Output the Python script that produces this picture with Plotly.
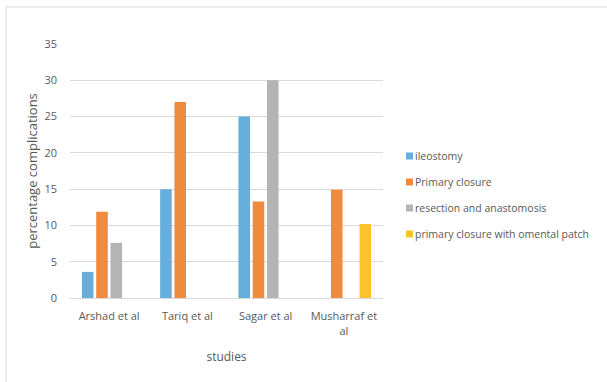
import plotly.graph_objects as go

# Studies and complication rates (%) for each surgical technique
studies = ["Arshad et al", "Tariq et al", "Sagar et al", "Musharraf et<br>al"]
ileostomy = [3.6, 15, 25, None]
primary_closure = [11.9, 27, 13.3, 14.9]
resection_anastomosis = [7.6, None, 30, None]
omental_patch = [None, None, None, 10.2]

series_names = [
    "ileostomy",
    "Primary closure",
    "resection and anastomosis",
    "primary closure with omental patch",
]
series_values = [ileostomy, primary_closure, resection_anastomosis, omental_patch]
series_colors = ["#66AEDB", "#F08A3C", "#B4B4B4", "#FCC22E"]

y_ticks = [0, 5, 10, 15, 20, 25, 30, 35]

W, H = 607, 382
L, R, T, B = 70, 224, 44, 84
PW, PH = W - L - R, H - T - B

def px_x(px):
    return (px - L) / PW

def px_y(py):
    return (H - B - py) / PH

TEXT = "#595959"
GRID = "#D9D9D9"
FONT = "Open Sans"

fig = go.Figure()
for name, vals, col in zip(series_names, series_values, series_colors):
    fig.add_trace(go.Bar(
        x=studies, y=vals, name=name, marker_color=col,
        marker_line_width=0, showlegend=False,
    ))

# Compact legend: small squares with labels to the right of the plot
shapes = []
annotations = []
legend_y = [156, 182, 208, 234]
for name, col, cy in zip(series_names, series_colors, legend_y):
    shapes.append(dict(
        type="rect", xref="paper", yref="paper",
        x0=px_x(406), x1=px_x(413), y0=px_y(cy + 3.5), y1=px_y(cy - 3.5),
        fillcolor=col, line_width=0,
    ))
    annotations.append(dict(
        text=name, xref="paper", yref="paper", x=px_x(413), y=px_y(cy),
        xanchor="left", yanchor="middle", showarrow=False,
        font=dict(family=FONT, size=10.5, color=TEXT),
    ))

# Chart frame
shapes.append(dict(type="line", xref="paper", yref="paper",
                   x0=px_x(6), x1=px_x(607), y0=px_y(7), y1=px_y(7),
                   line=dict(color=GRID, width=1)))
shapes.append(dict(type="line", xref="paper", yref="paper",
                   x0=px_x(6), x1=px_x(6), y0=px_y(7), y1=px_y(382),
                   line=dict(color=GRID, width=1)))

fig.update_layout(
    width=W, height=H,
    margin=dict(l=L, r=R, t=T, b=B),
    paper_bgcolor="white", plot_bgcolor="white",
    barmode="group", bargap=0.27, bargroupgap=0.19,
    font=dict(family=FONT, size=11, color=TEXT),
    shapes=shapes, annotations=annotations,
    showlegend=False,
    xaxis=dict(
        title=dict(text="studies", font=dict(size=12, color=TEXT), standoff=16),
        showline=True, linecolor=GRID, linewidth=1,
        ticks="", tickfont=dict(size=11, color=TEXT),
        ticklabelstandoff=8,
        showgrid=False, fixedrange=True,
    ),
    yaxis=dict(
        title=dict(text="percentage complications", font=dict(size=13, color=TEXT), standoff=3),
        range=[0, 35], tickvals=y_ticks,
        showgrid=True, gridcolor=GRID, gridwidth=1,
        zeroline=False, showline=False, ticks="",
        ticklabelstandoff=12,
        tickfont=dict(size=11, color=TEXT), fixedrange=True,
    ),
)

fig.write_html("out.html", config={"displayModeBar": False})
